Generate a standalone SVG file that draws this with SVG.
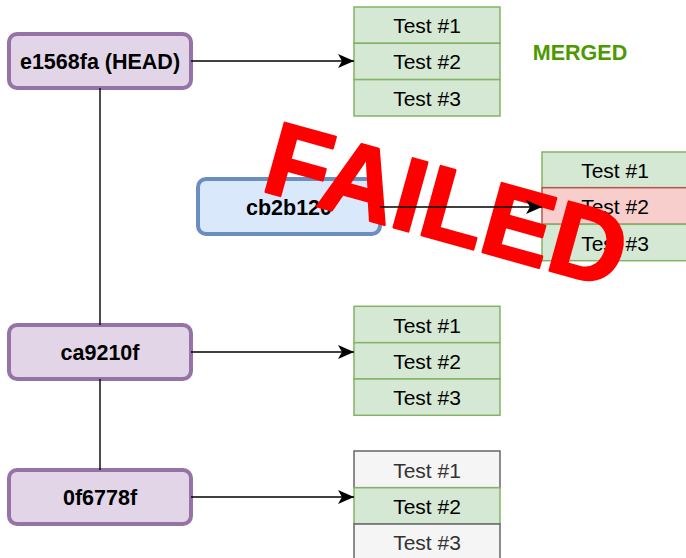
<svg xmlns="http://www.w3.org/2000/svg" width="686" height="558" viewBox="0 0 686 558">
  <style>
    .commit rect { fill: #e1d5e7; stroke: #9673a6; stroke-width: 4; }
    .branch rect { fill: #dae8fc; stroke: #6c8ebf; stroke-width: 4; }
    .label { font-family: "Liberation Sans", Arial, Helvetica, sans-serif; font-size: 21.5px; font-weight: bold; fill: #000; text-anchor: middle; }
    .pass { fill: #d5e8d4; stroke: #82b366; stroke-width: 1.5; }
    .fail { fill: #f8cecc; stroke: #b85450; stroke-width: 1.5; }
    .skip { fill: #f5f5f5; stroke: #666666; stroke-width: 1.5; }
    .t { font-family: "Liberation Sans", Arial, Helvetica, sans-serif; font-size: 21px; fill: #000; text-anchor: middle; }
    .t.grey { fill: #333333; }
    .edge { stroke: #000; stroke-width: 1.4; fill: none; }
  </style>
  <defs>
    <marker id="arrow" markerWidth="18" markerHeight="14" refX="16" refY="7" orient="auto" markerUnits="userSpaceOnUse">
      <path d="M0,0 L16,7 L0,14 L4,7 Z" fill="#000"/>
    </marker>
  </defs>

  <rect width="686" height="558" fill="#ffffff"/>

  <!-- commit nodes -->
  <g id="commit-e1568fa" class="commit">
    <rect x="9" y="34" width="182" height="54" rx="8"/>
    <text class="label" x="100" y="69">e1568fa (HEAD)</text>
  </g>
  <g id="commit-cb2b120" class="branch">
    <rect x="198" y="179" width="182" height="55" rx="8"/>
    <text class="label" x="289" y="214.5">cb2b120</text>
  </g>
  <g id="commit-ca9210f" class="commit">
    <rect x="9" y="325" width="182" height="54" rx="8"/>
    <text class="label" x="100" y="359.5">ca9210f</text>
  </g>
  <g id="commit-0f6778f" class="commit">
    <rect x="9" y="470" width="182" height="54" rx="8"/>
    <text class="label" x="100" y="504.5">0f6778f</text>
  </g>

  <!-- test result tables -->
  <g id="tests-e1568fa">
    <rect class="pass" x="354" y="7" width="146" height="36.3"/>
    <rect class="pass" x="354" y="43.3" width="146" height="36.3"/>
    <rect class="pass" x="354" y="79.6" width="146" height="36.4"/>
    <text class="t" x="427" y="33">Test #1</text>
    <text class="t" x="427" y="69">Test #2</text>
    <text class="t" x="427" y="105.5">Test #3</text>
  </g>
  <g id="merged-label">
    <text class="label" x="580" y="60" style="fill:#4d9900">MERGED</text>
  </g>
  <g id="tests-cb2b120">
    <rect class="pass" x="542" y="152" width="146" height="35.7"/>
    <rect class="fail" x="542" y="187.7" width="146" height="36.6"/>
    <rect class="pass" x="542" y="224.3" width="146" height="36.4"/>
    <text class="t" x="615" y="178">Test #1</text>
    <text class="t" x="615" y="214">Test #2</text>
    <text class="t" x="615" y="250.5">Test #3</text>
  </g>
  <g id="tests-ca9210f">
    <rect class="pass" x="354" y="306.3" width="146" height="36.4"/>
    <rect class="pass" x="354" y="342.7" width="146" height="36.3"/>
    <rect class="pass" x="354" y="379" width="146" height="36.3"/>
    <text class="t" x="427" y="332.5">Test #1</text>
    <text class="t" x="427" y="369">Test #2</text>
    <text class="t" x="427" y="405">Test #3</text>
  </g>
  <g id="tests-0f6778f">
    <rect class="skip" x="354" y="451" width="146" height="36.7"/>
    <rect class="pass" x="354" y="487.7" width="146" height="36.3"/>
    <rect class="skip" x="354" y="524" width="146" height="36.3"/>
    <text class="t grey" x="427" y="477.5">Test #1</text>
    <text class="t" x="427" y="514">Test #2</text>
    <text class="t grey" x="427" y="550">Test #3</text>
  </g>

  <!-- failure stamp -->
  <g id="failed-stamp">
    <text x="0" y="0" transform="translate(259,190) rotate(15.5)" font-family="'Liberation Sans', Arial, Helvetica, sans-serif" font-size="104" font-weight="bold" fill="#ff0000" stroke="#ff0000" stroke-width="2.5" stroke-linejoin="round">FAILED</text>
  </g>

  <!-- connectors -->
  <g id="connectors">
    <line class="edge" x1="100" y1="88" x2="100" y2="325"/>
    <line class="edge" x1="100" y1="379" x2="100" y2="470"/>
    <line class="edge" x1="191" y1="61" x2="354" y2="61" marker-end="url(#arrow)"/>
    <line class="edge" x1="380" y1="207" x2="542" y2="207" marker-end="url(#arrow)"/>
    <line class="edge" x1="191" y1="352" x2="354" y2="352" marker-end="url(#arrow)"/>
    <line class="edge" x1="191" y1="497" x2="354" y2="497" marker-end="url(#arrow)"/>
  </g>
</svg>
